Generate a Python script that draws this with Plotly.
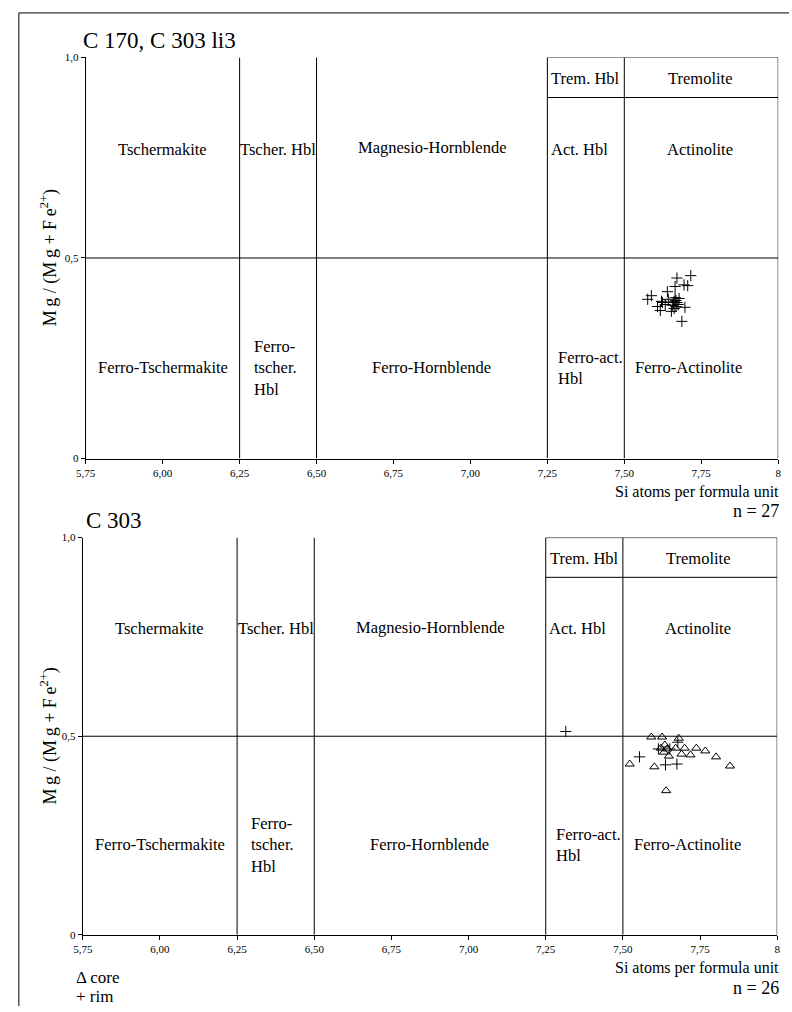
import plotly.graph_objects as go

W, H = 792, 1012
FONT = "Liberation Serif"

# ---------------- data ----------------
# Diagram boundaries (Si apfu and Mg/(Mg+Fe2+))
si_boundaries = [6.25, 6.50, 7.25, 7.50, 8.00]
mg_boundary = 0.5
trem_boundary = 0.9

x_tickvals = [5.75, 6.00, 6.25, 6.50, 6.75, 7.00, 7.25, 7.50, 7.75, 8.00]
x_ticktext = ["5,75", "6,00", "6,25", "6,50", "6,75", "7,00", "7,25", "7,50", "7,75", "8"]
y_tickvals = [0, 0.5, 1.0]
y_ticktext = ["0", "0,5", "1,0"]

# field names: (text, x, y, anchor)
field_labels = [
    ("Tschermakite", 6.00, 0.77, "center"),
    ("Tscher. Hbl", 6.375, 0.77, "center"),
    ("Magnesio-Hornblende", 6.875, 0.775, "center"),
    ("Act. Hbl", 7.255, 0.77, "left"),
    ("Actinolite", 7.745, 0.77, "center"),
    ("Trem. Hbl", 7.375, 0.948, "center"),
    ("Tremolite", 7.745, 0.948, "center"),
    ("Ferro-Tschermakite", 6.00, 0.227, "center"),
    ("Ferro-<br>tscher.<br>Hbl", 6.29, 0.227, "left"),
    ("Ferro-Hornblende", 6.875, 0.227, "center"),
    ("Ferro-act.<br>Hbl", 7.278, 0.227, "left"),
    ("Ferro-Actinolite", 7.71, 0.227, "center"),
]

# Plot 1: C 170, C 303 li3 (n = 27, all "+")
p1_si = [7.671, 7.716, 7.665, 7.694, 7.706, 7.640, 7.588, 7.576, 7.665, 7.668,
         7.621, 7.633, 7.608, 7.617, 7.659, 7.675, 7.697, 7.653, 7.687, 7.662,
         7.671, 7.656, 7.668, 7.624, 7.678, 7.643, 7.662]
p1_mg = [0.450, 0.456, 0.429, 0.433, 0.431, 0.416, 0.406, 0.397, 0.401, 0.394,
         0.392, 0.384, 0.379, 0.369, 0.389, 0.384, 0.377, 0.367, 0.342, 0.392,
         0.389, 0.382, 0.379, 0.389, 0.399, 0.397, 0.374]

# Plot 2: C 303 (n = 26) core = triangles, rim = crosses
core_si = [7.592, 7.627, 7.681, 7.636, 7.643, 7.671, 7.700, 7.738, 7.767, 7.802,
           7.847, 7.690, 7.719, 7.649, 7.633, 7.522, 7.602, 7.640, 7.623]
core_mg = [0.498, 0.498, 0.495, 0.478, 0.468, 0.470, 0.470, 0.470, 0.463, 0.448,
           0.425, 0.455, 0.453, 0.450, 0.460, 0.430, 0.423, 0.363, 0.470]
rim_si = [7.315, 7.554, 7.615, 7.638, 7.675, 7.678, 7.652]
rim_mg = [0.512, 0.448, 0.468, 0.428, 0.430, 0.485, 0.468]


def px(x):
    return x / W


def py(y):
    return 1 - y / H


fig = go.Figure()

cross = dict(symbol="cross-thin", size=8, color="black", line=dict(color="black", width=1))
tri = dict(symbol="triangle-up-open", size=8, color="black", line=dict(color="black", width=1))

fig.add_trace(go.Scatter(x=p1_si, y=p1_mg, mode="markers", marker=cross,
                         xaxis="x", yaxis="y", showlegend=False, hoverinfo="skip"))
fig.add_trace(go.Scatter(x=core_si, y=core_mg, mode="markers", marker=tri,
                         xaxis="x2", yaxis="y2", showlegend=False, hoverinfo="skip"))
fig.add_trace(go.Scatter(x=rim_si, y=rim_mg, mode="markers", marker=cross,
                         xaxis="x2", yaxis="y2", showlegend=False, hoverinfo="skip"))

panels = [
    dict(xa="x", ya="y", xdom=[px(77), px(781)], ydom=[py(458), py(52)]),
    dict(xa="x2", ya="y2", xdom=[px(74), px(780)], ydom=[py(940), py(538)]),
]

shapes = []
annotations = []
line = dict(color="black", width=1)

for i, p in enumerate(panels):
    xa, ya = p["xa"], p["ya"]
    for b in si_boundaries:
        shapes.append(dict(type="line", xref=xa, yref=ya, x0=b, x1=b, y0=0, y1=1, line=line))
    shapes.append(dict(type="line", xref=xa, yref=ya, x0=5.75, x1=8, y0=mg_boundary, y1=mg_boundary, line=line))
    shapes.append(dict(type="line", xref=xa, yref=ya, x0=7.25, x1=8, y0=trem_boundary, y1=trem_boundary, line=line))
    shapes.append(dict(type="line", xref=xa, yref=ya, x0=7.25, x1=8, y0=1, y1=1, line=line))
    for (t, x, y, anc) in field_labels:
        annotations.append(dict(text=t, x=x, y=y, xref=xa, yref=ya, showarrow=False,
                                xanchor=anc, yanchor="middle", align="left",
                                font=dict(family=FONT, size=16.5, color="black")))

axis_common = dict(showgrid=False, zeroline=False, showline=True, linecolor="black", linewidth=1,
                   ticks="outside", ticklen=4, tickcolor="black", tickwidth=1,
                   tickfont=dict(family=FONT, size=11, color="black"))

layout_axes = {}
for i, p in enumerate(panels):
    sx = "" if i == 0 else "2"
    layout_axes["xaxis" + sx] = dict(axis_common, domain=p["xdom"], range=[5.75, 8],
                                      anchor="y" + sx, tickvals=x_tickvals, ticktext=x_ticktext)
    layout_axes["yaxis" + sx] = dict(axis_common, domain=p["ydom"], range=[0, 1],
                                      anchor="x" + sx, tickvals=y_tickvals, ticktext=y_ticktext)


def ann(text, x, y, size, xanchor="left", yanchor="middle", angle=0):
    annotations.append(dict(text=text, x=px(x), y=py(y), xref="paper", yref="paper",
                            showarrow=False, xanchor=xanchor, yanchor=yanchor, textangle=angle,
                            borderpad=0,
                            font=dict(family=FONT, size=size, color="black")))


NB = "\u00a0"
TH = "\u2009"
ytitle = f"M{TH}g{NB}/{NB}(M{TH}g{NB}+{NB}F{TH}e<sup>2+</sup>)"

ann("C 170, C 303 li3", 73, 35, 23)
ann("C 303", 76, 521, 23)
ann(ytitle, 40, 255, 18, xanchor="center", angle=-90)
ann(ytitle, 40, 739, 18, xanchor="center", angle=-90)
ann("Si atoms per formula unit", 783, 492, 16, xanchor="right")
ann("n = 27", 783, 511, 18, xanchor="right")
ann("Si atoms per formula unit", 783, 974, 16, xanchor="right")
ann("n = 26", 783, 994, 18, xanchor="right")
ann("\u0394 core", 66, 983, 17)
ann("+ rim", 66, 1002, 17)

# page frame (left and top)
shapes.append(dict(type="line", xref="paper", yref="paper", x0=px(9), x1=px(9), y0=0, y1=py(7), line=line))
shapes.append(dict(type="line", xref="paper", yref="paper", x0=px(9), x1=1, y0=py(7), y1=py(7), line=line))

fig.update_layout(
    width=W, height=H,
    margin=dict(l=0, r=0, t=0, b=0),
    paper_bgcolor="white", plot_bgcolor="white",
    shapes=shapes, annotations=annotations,
    showlegend=False,
    hovermode=False,
    **layout_axes,
)

fig.write_html(
    "out.html",
    config={"displayModeBar": False, "staticPlot": True},
    post_script="document.body.style.margin='0px';"
                "document.documentElement.style.overflow='hidden';"
                "document.body.style.overflow='hidden';",
)
